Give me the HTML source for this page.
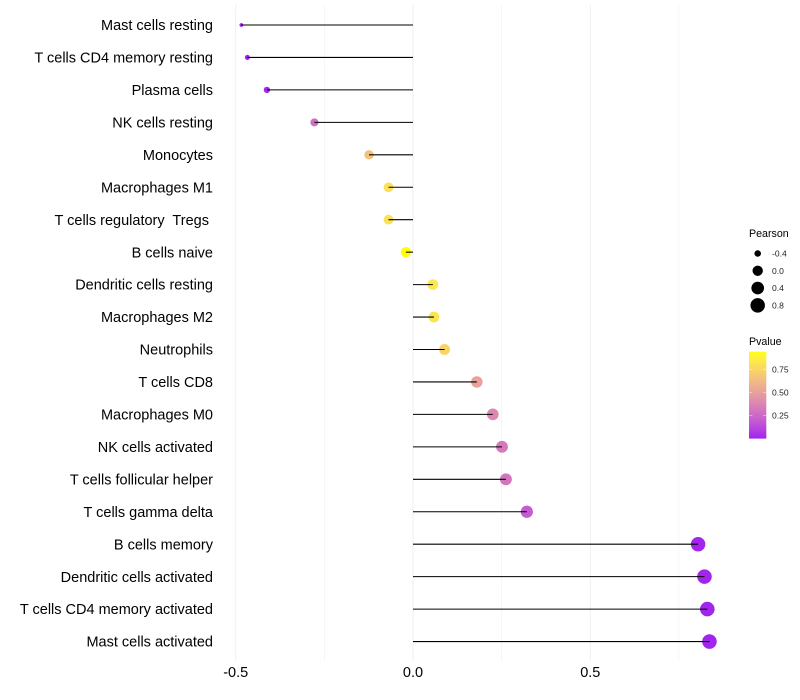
<!DOCTYPE html>
<html>
<head>
<meta charset="utf-8">
<title>Pearson lollipop chart</title>
<style>
html,body{margin:0;padding:0;background:#fff;width:800px;height:700px;overflow:hidden}
svg{display:block}
text{font-family:"Liberation Sans",sans-serif;white-space:pre}
</style>
</head>
<body>
<svg id="chart" width="800" height="700" viewBox="0 0 800 700"></svg>
<script>
const categories = ["Mast cells resting","T cells CD4 memory resting","Plasma cells","NK cells resting","Monocytes","Macrophages M1","T cells regulatory  Tregs ","B cells naive","Dendritic cells resting","Macrophages M2","Neutrophils","T cells CD8","Macrophages M0","NK cells activated","T cells follicular helper","T cells gamma delta","B cells memory","Dendritic cells activated","T cells CD4 memory activated","Mast cells activated"];
const pearson = [-0.484,-0.467,-0.412,-0.278,-0.124,-0.069,-0.069,-0.020,0.056,0.059,0.089,0.180,0.225,0.251,0.262,0.321,0.804,0.822,0.830,0.836];
const pvalues = [0.0,0.0,0.02,0.27,0.65,0.80,0.80,0.94,0.83,0.82,0.74,0.50,0.39,0.32,0.30,0.19,0.01,0.01,0.01,0.01];
const xMajorTicks = [-0.5,0,0.5];
const xMinorTicks = [-0.25,0.25,0.75];
const xTickLabels = ["-0.5","0.0","0.5"];
const sizeLegendValues = [-0.4,0,0.4,0.8];
const sizeLegendLabels = ["-0.4","0.0","0.4","0.8"];
const colorLegendValues = [0.25,0.5,0.75];
const colorLegendLabels = ["0.25","0.50","0.75"];

const NS = "http://www.w3.org/2000/svg";
const svg = document.getElementById("chart");
const sx = v => 413 + v * 354.6;
const sy = i => 25 + i * 32.45;
const pMax = Math.max(...pvalues), pMin = Math.min(...pvalues);
const vMin = Math.min(...pearson), vMax = Math.max(...pearson);
const sr = v => 1.9 + 5.4 * Math.sqrt(Math.max(0, (v - vMin) / (vMax - vMin)));

function toLab(rgb){
  const f = c => { c /= 255; return c > 0.04045 ? Math.pow((c + 0.055) / 1.055, 2.4) : c / 12.92; };
  const r = f(rgb[0]), g = f(rgb[1]), b = f(rgb[2]);
  const X = (0.4124564*r + 0.3575761*g + 0.1804375*b) / 0.95047;
  const Y = 0.2126729*r + 0.7151522*g + 0.0721750*b;
  const Z = (0.0193339*r + 0.1191920*g + 0.9503041*b) / 1.08883;
  const h = t => t > 0.008856 ? Math.cbrt(t) : 7.787 * t + 16 / 116;
  return [116*h(Y) - 16, 500*(h(X) - h(Y)), 200*(h(Y) - h(Z))];
}
function fromLab(l){
  const fy = (l[0] + 16) / 116, fx = fy + l[1] / 500, fz = fy - l[2] / 200;
  const h = t => t*t*t > 0.008856 ? t*t*t : (t - 16/116) / 7.787;
  const X = h(fx)*0.95047, Y = h(fy), Z = h(fz)*1.08883;
  const r = 3.2404542*X - 1.5371385*Y - 0.4985314*Z;
  const g = -0.9692660*X + 1.8760108*Y + 0.0415560*Z;
  const b = 0.0556434*X - 0.2040259*Y + 1.0572252*Z;
  const f = c => { c = c > 0.0031308 ? 1.055*Math.pow(c, 1/2.4) - 0.055 : 12.92*c; return Math.round(Math.min(1, Math.max(0, c)) * 255); };
  return "rgb(" + f(r) + "," + f(g) + "," + f(b) + ")";
}
const labLow = toLab([160,32,240]), labHigh = toLab([255,255,0]);
function colorOf(p){
  const t = Math.min(1, Math.max(0, (p - pMin) / (pMax - pMin)));
  return fromLab(labLow.map((c, i) => c + (labHigh[i] - c) * t));
}
function add(tag, attrs, text){
  const e = document.createElementNS(NS, tag);
  for (const k in attrs) e.setAttribute(k, attrs[k]);
  if (text !== undefined) e.textContent = text;
  svg.appendChild(e);
  return e;
}

// gridlines
xMinorTicks.forEach(v => {
  const g = add("line", {x1: sx(v), x2: sx(v), y1: 5, y2: 661, stroke: "#f0f0f0", "stroke-width": 0.55});
  
  
});
xMajorTicks.forEach(v => {
  const g = add("line", {x1: sx(v), x2: sx(v), y1: 5, y2: 661, stroke: "#f0f0f0", "stroke-width": 1.07});
  
  
});

// x tick labels
xMajorTicks.forEach((v, i) => {
  const t = add("text", {x: sx(v), y: 677, "text-anchor": "middle", "font-size": 14.5, fill: "#000"}, xTickLabels[i]);
  
  
});

// category labels, points, then stems
categories.forEach((c, i) => {
  const t = add("text", {x: 213, y: sy(i) + 5.1, "text-anchor": "end", "font-size": 14.5, fill: "#000"}, c);
  
  
});
pearson.forEach((v, i) => {
  const p = add("circle", {cx: sx(v), cy: sy(i), r: sr(v), fill: colorOf(pvalues[i])});
  
  
});
pearson.forEach((v, i) => {
  const l = add("line", {x1: sx(0), x2: sx(v), y1: sy(i), y2: sy(i), stroke: "#000", "stroke-width": 1.07});
  
  
});

// size legend
const sizeTitle = add("text", {x: 749, y: 237, "font-size": 10.67, fill: "#000"}, "Pearson");


sizeLegendValues.forEach((v, i) => {
  const y = 253.5 + i * 17.28;
  const k = add("circle", {cx: 757.7, cy: y, r: sr(v), fill: "#000"});
  
  
  const t = add("text", {x: 772, y: y + 3.1, "font-size": 8.53, fill: "#222"}, sizeLegendLabels[i]);
  
  
});

// colour legend
const colorTitle = add("text", {x: 749, y: 345, "font-size": 10.67, fill: "#000"}, "Pvalue");


const barTop = 351.7, barBottom = 438.3, barLeft = 749, barW = 17.3;
const sBar = p => barBottom - (p - pMin) / (pMax - pMin) * (barBottom - barTop);
const slices = 40;
for (let i = 0; i < slices; i++) {
  const h = (barBottom - barTop) / slices;
  const r = add("rect", {x: barLeft, y: barTop + i * h, width: barW, height: h + 0.3, fill: colorOf(pMax - (pMax - pMin) * (i + 0.5) / slices)});
  
  
}
colorLegendValues.forEach((v, i) => {
  const y = sBar(v);
  const a = add("line", {x1: barLeft, x2: barLeft + 3.4, y1: y, y2: y, stroke: "#fff", "stroke-width": 0.5, opacity: 0.8});
  
  
  const b = add("line", {x1: barLeft + barW - 3.4, x2: barLeft + barW, y1: y, y2: y, stroke: "#fff", "stroke-width": 0.5, opacity: 0.8});
  
  
  const t = add("text", {x: 772, y: y + 3.1, "font-size": 8.53, fill: "#222"}, colorLegendLabels[i]);
  
  
});
</script>
</body>
</html>
